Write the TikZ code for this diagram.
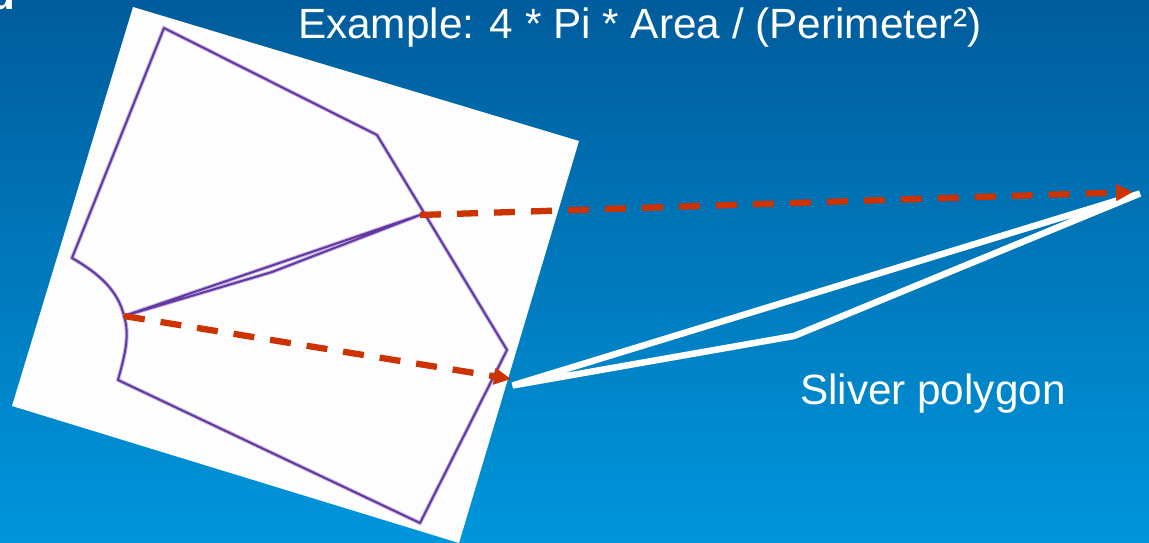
\documentclass[tikz,border=0pt]{standalone}
\usepackage{fontspec}
\setmainfont{Liberation Sans}
\usetikzlibrary{arrows.meta}
\definecolor{purp}{HTML}{6338A3}
\definecolor{redd}{HTML}{CC3300}
\definecolor{sheet}{HTML}{FDFDFE}
\definecolor{bgtop}{HTML}{005C9C}
\definecolor{bgbottom}{HTML}{0096DC}
\begin{document}
\begin{tikzpicture}[x=1pt,y=-1pt,
  outline/.style={draw=purp,line width=2pt,line join=round,preaction={draw=purp!35,line width=4pt}},
  dasharrow/.style={draw=redd,line width=6.3pt,dash pattern=on 21pt off 16pt,-{Triangle[length=17pt,width=16pt]}},
  sliver/.style={draw=white,line width=6.5pt,line join=bevel},
  label/.style={text=white,font=\fontsize{42.3}{46}\selectfont,anchor=base west,inner sep=0pt,outer sep=0pt}]
\useasboundingbox (0,0) rectangle (1149,543);
\clip (0,0) rectangle (1149,543);
\shade[top color=bgtop,bottom color=bgbottom] (0,0) rectangle (1149,543);
\fill[sheet] (133,7) -- (579,141) -- (459,543) -- (12,406) -- cycle;
\coordinate (a) at (164,28);
\coordinate (b) at (377,135);
\coordinate (c) at (420,215);
\coordinate (d) at (507,350);
\coordinate (e) at (420,523);
\coordinate (f) at (118,380);
\coordinate (g) at (124,316);
\coordinate (h) at (72,258);
\coordinate (i) at (272,272);
\coordinate (p) at (512.5,385.5);
\coordinate (q) at (1140,193.5);
\coordinate (r) at (794,336);
\coordinate (s) at (511,379);
\coordinate (t) at (1133,192);
\draw[outline] (a) -- (b) -- (d) -- (e) -- (f) .. controls (125,355) and (130,335) .. (g) .. controls (118,290) and (98,273) .. (h) -- cycle;
\draw[outline] (g) -- (c) -- (i) -- cycle;
\draw[sliver] (p) -- (q) -- (r) -- cycle;
\draw[dasharrow] (g) -- (s);
\draw[dasharrow] (c) -- (t);
\node[label] (title) at (298,39) {Example: 4 * Pi * Area / (Perimeter²)};
\node[label] (sl) at (800,404) {Sliver polygon};
\node[label,font=\fontsize{42.3}{46}\selectfont\bfseries] (frag1) at (-10,10) {d};
\node[label] (frag2) at (-21,171) {o};
\end{tikzpicture}
\end{document}
